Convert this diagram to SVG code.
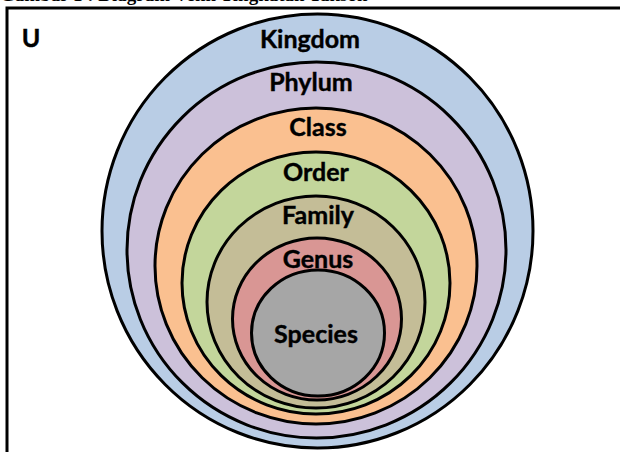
<svg xmlns="http://www.w3.org/2000/svg" width="620" height="452" viewBox="0 0 620 452">
  <style>
    .ring { stroke: #000; stroke-width: 3; }
    .lbl { font-family: Lato, "Open Sans", "Liberation Sans", sans-serif; font-weight: bold; font-size: 25px; fill: #000; text-anchor: middle; stroke: #000; stroke-width: 0.4px; }
    .title { font-family: "Liberation Serif", serif; font-weight: bold; font-size: 19px; fill: #000; }
  </style>
  <rect width="620" height="452" fill="#fff"/>
  <!-- caption, running off the top edge -->
  <text class="title" x="0" y="1">Gambar 1 : Diagram Venn Tingkatan Takson</text>
  <!-- universe frame -->
  <g id="universe">
    <path d="M7 452 V8 H620" fill="none" stroke="#000" stroke-width="3"/>
    <text class="lbl" x="31" y="47">U</text>
  </g>
  <g id="kingdom">
    <ellipse class="ring" cx="317.5" cy="231" rx="215.5" ry="217" fill="#b9cde5"/>
    <text class="lbl" x="310" y="48">Kingdom</text>
  </g>
  <g id="phylum">
    <ellipse class="ring" cx="316.5" cy="250" rx="189.5" ry="188" fill="#ccc1da"/>
    <text class="lbl" x="311" y="91">Phylum</text>
  </g>
  <g id="class">
    <ellipse class="ring" cx="316" cy="266" rx="161" ry="158" fill="#fac090"/>
    <text class="lbl" x="318" y="136">Class</text>
  </g>
  <g id="order">
    <ellipse class="ring" cx="316" cy="283" rx="134" ry="131" fill="#c3d69b"/>
    <text class="lbl" x="316" y="181">Order</text>
  </g>
  <g id="family">
    <ellipse class="ring" cx="316" cy="302" rx="109" ry="106" fill="#c4bd97"/>
    <text class="lbl" x="318" y="224">Family</text>
  </g>
  <g id="genus">
    <ellipse class="ring" cx="317" cy="319" rx="84.5" ry="81" fill="#d99694"/>
    <text class="lbl" x="318" y="268">Genus</text>
  </g>
  <g id="species">
    <ellipse class="ring" cx="318" cy="333" rx="66.5" ry="63" fill="#a6a6a6"/>
    <text class="lbl" x="316" y="343">Species</text>
  </g>
</svg>
